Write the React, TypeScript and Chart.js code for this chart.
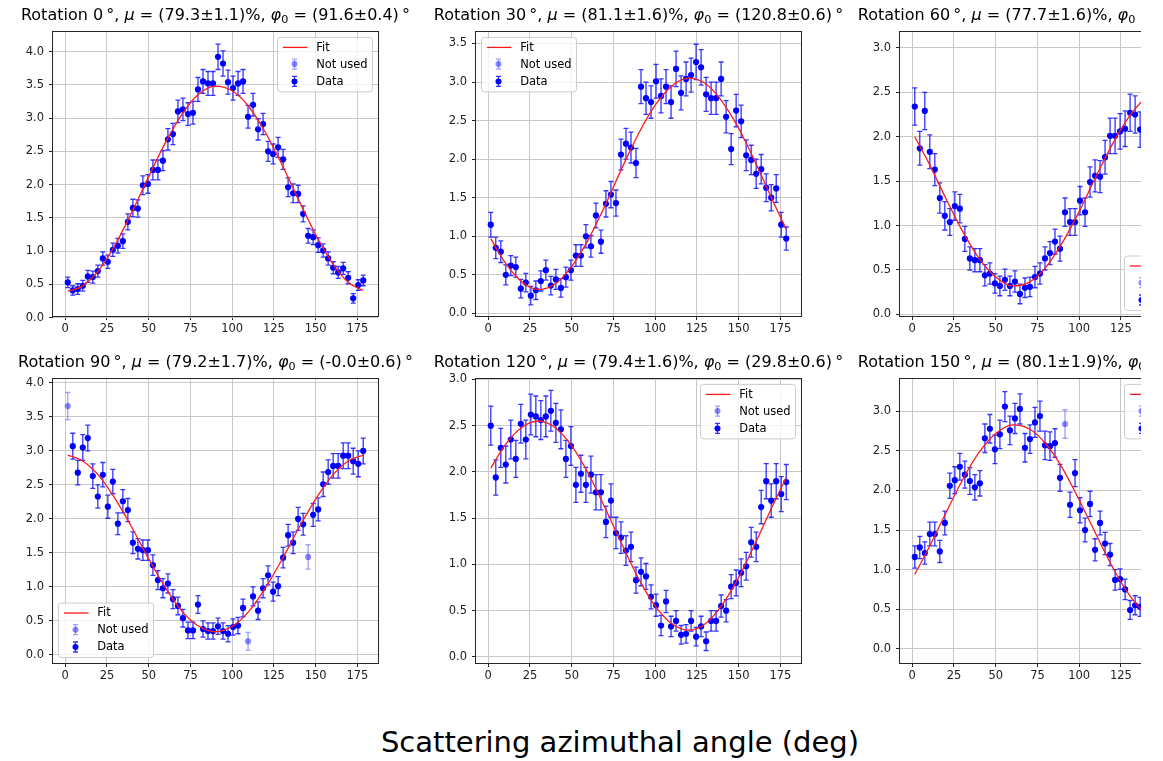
import React, { useEffect, useRef } from "react";
import { Chart, registerables } from "chart.js";

Chart.register(...registerables);

const FONT = "'DejaVu Sans', 'Liberation Sans', sans-serif";

// ---------------- data ----------------
const angles = [
  1.5, 4.5, 7.5, 10.5, 13.5, 16.5, 19.5, 22.5, 25.5, 28.5, 31.5, 34.5, 37.5, 40.5, 43.5,
  46.5, 49.5, 52.5, 55.5, 58.5, 61.5, 64.5, 67.5, 70.5, 73.5, 76.5, 79.5, 82.5, 85.5, 88.5,
  91.5, 94.5, 97.5, 100.5, 103.5, 106.5, 109.5, 112.5, 115.5, 118.5, 121.5, 124.5, 127.5, 130.5, 133.5,
  136.5, 139.5, 142.5, 145.5, 148.5, 151.5, 154.5, 157.5, 160.5, 163.5, 166.5, 169.5, 172.5, 175.5, 178.5,
];
const fitAngles = [1.5, 10, 20, 30, 40, 50, 60, 70, 80, 90, 100, 110, 120, 130, 140, 150, 160, 170, 178.5];
const xTicks = [0, 25, 50, 75, 100, 125, 150, 175];

const rotations = ["0", "30", "60", "90", "120", "150"];
const muTexts = ["79.3±1.1", "81.1±1.6", "77.7±1.6", "79.2±1.7", "79.4±1.6", "80.1±1.9"];
const phiTexts = ["91.6±0.4", "120.8±0.6", "151.4±0.6", "-0.0±0.6", "29.8±0.6", "61.5±0.6"];

const counts0 = [0.53,0.41,0.43,0.48,0.62,0.61,0.70,0.89,0.84,1.02,1.08,1.15,1.44,1.65,1.64,1.99,2.01,2.22,2.22,2.36,2.68,2.76,3.10,3.13,3.06,3.08,3.43,3.55,3.52,3.52,3.92,3.82,3.54,3.45,3.52,3.55,3.02,3.20,2.83,2.91,2.50,2.46,2.56,2.38,1.96,1.87,1.86,1.56,1.23,1.21,1.09,1.01,0.89,0.75,0.68,0.74,0.60,0.29,0.49,0.56];
const errors0 = [0.08,0.07,0.08,0.08,0.09,0.09,0.09,0.10,0.10,0.10,0.11,0.11,0.12,0.13,0.13,0.14,0.14,0.15,0.15,0.15,0.16,0.16,0.17,0.17,0.17,0.17,0.18,0.18,0.18,0.18,0.19,0.19,0.18,0.18,0.18,0.18,0.17,0.17,0.16,0.16,0.15,0.15,0.15,0.15,0.14,0.14,0.13,0.12,0.11,0.11,0.11,0.10,0.10,0.09,0.09,0.09,0.09,0.07,0.08,0.08];
const fit0 = [0.40,0.47,0.71,1.10,1.59,2.12,2.63,3.06,3.36,3.48,3.41,3.17,2.78,2.29,1.76,1.25,0.82,0.52,0.41];
const notUsed0: number[] = [];
const yTicks0 = [0, 0.5, 1, 1.5, 2, 2.5, 3, 3.5, 4];

const counts30 = [1.15,0.85,0.80,0.50,0.62,0.60,0.32,0.40,0.23,0.30,0.42,0.56,0.36,0.44,0.33,0.47,0.56,0.75,0.75,1.00,0.87,1.27,0.93,1.42,1.54,1.43,2.06,2.20,2.15,1.95,2.94,2.79,2.74,3.01,2.82,2.94,2.74,3.17,2.86,3.04,3.09,3.26,3.19,2.84,2.79,2.79,3.04,2.55,2.13,2.63,2.49,2.05,1.99,1.81,1.87,1.63,1.50,1.62,1.15,0.97];
const errors30 = [0.16,0.14,0.14,0.13,0.13,0.13,0.12,0.12,0.12,0.12,0.13,0.13,0.12,0.13,0.12,0.13,0.13,0.14,0.14,0.15,0.14,0.16,0.15,0.17,0.17,0.17,0.20,0.20,0.20,0.19,0.22,0.21,0.21,0.22,0.22,0.22,0.21,0.23,0.22,0.22,0.22,0.23,0.23,0.22,0.21,0.21,0.22,0.21,0.20,0.21,0.21,0.20,0.19,0.19,0.19,0.18,0.17,0.18,0.16,0.15];
const fit30 = [0.97,0.66,0.41,0.31,0.38,0.61,0.96,1.40,1.88,2.33,2.70,2.95,3.05,2.98,2.75,2.40,1.96,1.48,1.09];
const notUsed30: number[] = [];
const yTicks30 = [0, 0.5, 1, 1.5, 2, 2.5, 3, 3.5];

const counts60 = [2.34,1.87,2.29,1.83,1.63,1.31,1.11,1.04,1.22,1.19,0.85,0.63,0.61,0.61,0.44,0.46,0.35,0.32,0.39,0.32,0.37,0.23,0.30,0.31,0.42,0.46,0.63,0.69,0.82,0.74,1.15,1.04,1.04,1.28,1.15,1.49,1.56,1.55,1.77,2.01,2.01,2.06,2.09,2.27,2.25,2.08];
const errors60 = [0.21,0.19,0.21,0.19,0.18,0.17,0.16,0.15,0.16,0.16,0.14,0.13,0.13,0.13,0.12,0.12,0.11,0.11,0.12,0.11,0.12,0.11,0.11,0.11,0.12,0.12,0.13,0.13,0.14,0.14,0.16,0.15,0.15,0.16,0.16,0.17,0.18,0.18,0.19,0.20,0.20,0.20,0.20,0.21,0.21,0.20];
const fit60 = [2.00,1.70,1.31,0.94,0.63,0.42,0.32,0.36,0.53,0.81,1.16,1.55,1.92,2.23,2.44,2.54,2.50,2.33,2.10];
const notUsed60: number[] = [];
const yTicks60 = [0, 0.5, 1, 1.5, 2, 2.5, 3];

const counts90 = [3.66,3.07,2.68,3.05,3.19,2.63,2.33,2.65,2.18,2.55,1.93,2.26,2.13,1.65,1.56,1.54,1.54,1.32,1.10,0.98,1.05,0.82,0.72,0.54,0.36,0.36,0.74,0.38,0.35,0.35,0.42,0.35,0.31,0.41,0.43,0.69,0.20,0.86,0.65,0.98,1.17,0.93,1.01,1.43,1.76,1.65,2.00,1.92,1.44,2.06,2.14,2.51,2.69,2.78,2.78,2.93,2.93,2.85,2.81,3.00];
const errors90 = [0.20,0.19,0.18,0.19,0.19,0.18,0.17,0.18,0.17,0.18,0.16,0.17,0.17,0.16,0.15,0.15,0.15,0.15,0.14,0.14,0.14,0.14,0.13,0.13,0.12,0.12,0.13,0.12,0.12,0.12,0.12,0.12,0.12,0.12,0.12,0.13,0.13,0.14,0.13,0.14,0.14,0.14,0.14,0.15,0.16,0.16,0.17,0.16,0.18,0.17,0.17,0.18,0.18,0.18,0.18,0.19,0.19,0.19,0.19,0.19];
const fit90 = [2.94,2.86,2.64,2.29,1.87,1.41,0.99,0.64,0.42,0.34,0.42,0.64,0.99,1.41,1.87,2.29,2.64,2.86,2.94];
const notUsed90 = [1.5, 109.5, 145.5];
const yTicks90 = [0, 0.5, 1, 1.5, 2, 2.5, 3, 3.5, 4];

const counts120 = [2.50,1.94,2.26,2.08,2.35,2.14,2.52,2.35,2.62,2.60,2.56,2.60,2.66,2.53,2.46,2.14,2.28,1.86,1.98,1.86,1.97,1.78,1.78,1.46,1.69,1.34,1.29,1.15,1.19,0.83,0.92,0.87,0.65,0.56,0.34,0.60,0.33,0.39,0.24,0.25,0.39,0.22,0.33,0.17,0.39,0.39,0.55,0.50,0.76,0.80,0.91,0.98,1.24,1.19,1.62,1.90,1.69,1.90,1.76,1.89];
const errors120 = [0.21,0.19,0.21,0.20,0.21,0.20,0.21,0.21,0.22,0.22,0.21,0.22,0.22,0.21,0.21,0.20,0.21,0.19,0.20,0.19,0.20,0.19,0.19,0.17,0.18,0.17,0.17,0.16,0.16,0.14,0.15,0.14,0.13,0.12,0.11,0.12,0.11,0.11,0.10,0.10,0.11,0.10,0.11,0.10,0.11,0.11,0.12,0.12,0.13,0.14,0.15,0.15,0.16,0.16,0.18,0.19,0.18,0.19,0.19,0.19];
const fit120 = [2.04,2.29,2.48,2.55,2.48,2.28,1.98,1.61,1.22,0.85,0.55,0.36,0.29,0.36,0.56,0.86,1.23,1.62,1.94];
const notUsed120: number[] = [];
const yTicks120 = [0, 0.5, 1, 1.5, 2, 2.5, 3];

const counts150 = [1.16,1.28,1.21,1.45,1.45,1.23,1.59,2.06,2.13,2.30,2.20,2.12,2.04,2.09,2.66,2.78,2.52,2.71,3.06,2.76,2.91,3.03,2.54,2.65,2.86,2.94,2.57,2.56,2.60,2.16,2.84,1.82,2.22,1.75,1.50,1.83,1.25,1.59,1.33,1.19,0.87,0.88,0.75,0.49,0.55,0.53];
const errors150 = [0.14,0.14,0.14,0.15,0.15,0.14,0.15,0.16,0.17,0.17,0.17,0.17,0.16,0.16,0.18,0.18,0.18,0.18,0.19,0.18,0.19,0.19,0.18,0.18,0.19,0.19,0.18,0.18,0.18,0.17,0.18,0.16,0.17,0.16,0.15,0.16,0.14,0.15,0.14,0.14,0.13,0.13,0.13,0.12,0.12,0.12];
const fit150 = [0.94,1.28,1.71,2.13,2.48,2.72,2.83,2.78,2.59,2.28,1.88,1.45,1.03,0.68,0.44,0.33,0.38,0.57,0.83];
const notUsed150 = [91.5];
const yTicks150 = [0, 0.5, 1, 1.5, 2, 2.5, 3];

const legendLabels = ["Fit", "Not used", "Data"];
const xLabel = "Scattering azimuthal angle (deg)";

// ---------------- layout / style ----------------
type Loc = "upper right" | "upper left" | "lower right" | "lower left";
type PanelSpec = {
  idx: number;
  counts: number[];
  errors: number[];
  fit: number[];
  notUsed: number[];
  yTicks: number[];
  yMin: number;
  yMax: number;
  legend: Loc;
  left: number;
  top: number;
};

const AX_W = 325;
const AX_H = 288;
const Y_AXIS_W = 48;
const PAD_TOP = 8;
const PAD_RIGHT = 10;
const X_AXIS_H = 28;

const panels: PanelSpec[] = [
  { idx: 0, counts: counts0, errors: errors0, fit: fit0, notUsed: notUsed0, yTicks: yTicks0, yMin: 0.025, yMax: 4.295, legend: "upper right", left: 53, top: 28 },
  { idx: 1, counts: counts30, errors: errors30, fit: fit30, notUsed: notUsed30, yTicks: yTicks30, yMin: -0.034, yMax: 3.65, legend: "upper left", left: 476, top: 28 },
  { idx: 2, counts: counts60, errors: errors60, fit: fit60, notUsed: notUsed60, yTicks: yTicks60, yMin: -0.018, yMax: 3.18, legend: "lower right", left: 900, top: 28 },
  { idx: 3, counts: counts90, errors: errors90, fit: fit90, notUsed: notUsed90, yTicks: yTicks90, yMin: -0.12, yMax: 4.06, legend: "lower left", left: 53, top: 375 },
  { idx: 4, counts: counts120, errors: errors120, fit: fit120, notUsed: notUsed120, yTicks: yTicks120, yMin: -0.065, yMax: 3.005, legend: "upper right", left: 476, top: 375 },
  { idx: 5, counts: counts150, errors: errors150, fit: fit150, notUsed: notUsed150, yTicks: yTicks150, yMin: -0.18, yMax: 3.41, legend: "upper right", left: 900, top: 375 },
];

const BLUE = "#0000ff";
const BLUE_LIGHT = "rgba(0,0,255,0.45)";
const BAR = "rgba(0,0,255,0.8)";
const BAR_LIGHT = "rgba(0,0,255,0.38)";
const RED = "#ff1a1a";
const TICK_FONT = 11.5;

function drawErrorbar(ctx: CanvasRenderingContext2D, x: number, y0: number, y1: number, color: string) {
  ctx.strokeStyle = color;
  ctx.lineWidth = 1.3;
  ctx.beginPath();
  ctx.moveTo(x, y0);
  ctx.lineTo(x, y1);
  ctx.moveTo(x - 2.5, y0);
  ctx.lineTo(x + 2.5, y0);
  ctx.moveTo(x - 2.5, y1);
  ctx.lineTo(x + 2.5, y1);
  ctx.stroke();
}

function Panel({ spec }: { spec: PanelSpec }) {
  const ref = useRef<HTMLCanvasElement | null>(null);
  const cw = Y_AXIS_W + AX_W + PAD_RIGHT;
  const ch = PAD_TOP + AX_H + X_AXIS_H;

  useEffect(() => {
    if (!ref.current) return;
    const used: { x: number; y: number }[] = [];
    const unused: { x: number; y: number }[] = [];
    const bars: { x: number; y: number; e: number; used: boolean }[] = [];
    spec.counts.forEach((v, i) => {
      const a = angles[i];
      const isUsed = spec.notUsed.indexOf(a) < 0;
      (isUsed ? used : unused).push({ x: a, y: v });
      bars.push({ x: a, y: v, e: spec.errors[i], used: isUsed });
    });
    const fitPts = fitAngles.map((a, i) => ({ x: a, y: spec.fit[i] }));

    const errorPlugin = {
      id: "errorbarsLocal",
      beforeDatasetsDraw(chart: any) {
        const { ctx, chartArea } = chart;
        const xs = chart.scales.x;
        const ys = chart.scales.y;
        ctx.save();
        ctx.beginPath();
        ctx.rect(chartArea.left, chartArea.top, chartArea.right - chartArea.left, chartArea.bottom - chartArea.top);
        ctx.clip();
        for (const b of bars) {
          const px = xs.getPixelForValue(b.x);
          drawErrorbar(ctx, px, ys.getPixelForValue(b.y - b.e), ys.getPixelForValue(b.y + b.e), b.used ? BAR : BAR_LIGHT);
        }
        ctx.restore();
      },
    };

    const framePlugin = {
      id: "frameLegendLocal",
      afterDraw(chart: any) {
        const { ctx, chartArea } = chart;
        const l = chartArea.left, r = chartArea.right, t = chartArea.top, b = chartArea.bottom;
        ctx.save();
        ctx.strokeStyle = "#262626";
        ctx.lineWidth = 1;
        ctx.strokeRect(Math.round(l) - 0.5, Math.round(t) - 0.5, Math.round(r - l) + 1, Math.round(b - t) + 1);

        // legend
        const w = 95, h = 54.5, inset = 5.5;
        const bx = spec.legend.indexOf("right") >= 0 ? r - inset - w : l + inset;
        const by = spec.legend.indexOf("upper") >= 0 ? t + inset : b - inset - h;
        ctx.beginPath();
        if ((ctx as any).roundRect) (ctx as any).roundRect(bx, by, w, h, 3);
        else ctx.rect(bx, by, w, h);
        ctx.fillStyle = "rgba(255,255,255,0.8)";
        ctx.fill();
        ctx.strokeStyle = "#cccccc";
        ctx.lineWidth = 1;
        ctx.stroke();

        const rows = [by + 10, by + 26.7, by + 44];
        // Fit
        ctx.strokeStyle = RED;
        ctx.lineWidth = 1.3;
        ctx.beginPath();
        ctx.moveTo(bx + 5.4, rows[0]);
        ctx.lineTo(bx + 30, rows[0]);
        ctx.stroke();
        // Not used
        const mx = bx + 17;
        drawErrorbar(ctx, mx, rows[1] - 5, rows[1] + 5, BAR_LIGHT);
        ctx.fillStyle = BLUE_LIGHT;
        ctx.beginPath();
        ctx.arc(mx, rows[1], 3, 0, Math.PI * 2);
        ctx.fill();
        // Data
        drawErrorbar(ctx, mx, rows[2] - 5, rows[2] + 5, BAR);
        ctx.fillStyle = BLUE;
        ctx.beginPath();
        ctx.arc(mx, rows[2], 3, 0, Math.PI * 2);
        ctx.fill();

        ctx.fillStyle = "#000";
        ctx.font = `11.5px ${FONT}`;
        ctx.textBaseline = "middle";
        ctx.textAlign = "left";
        legendLabels.forEach((lab, i) => ctx.fillText(lab, bx + 38.7, rows[i] + 0.5));
        ctx.restore();
      },
    };

    const chart = new Chart(ref.current, {
      type: "scatter",
      data: {
        datasets: [
          {
            label: legendLabels[0],
            data: fitPts,
            showLine: true,
            borderColor: RED,
            borderWidth: 1.3,
            pointRadius: 0,
            cubicInterpolationMode: "monotone",
            order: 0,
          } as any,
          {
            label: legendLabels[2],
            data: used,
            backgroundColor: BLUE,
            borderWidth: 0,
            pointRadius: 3.1,
            order: 1,
          },
          {
            label: legendLabels[1],
            data: unused,
            backgroundColor: BLUE_LIGHT,
            borderWidth: 0,
            pointRadius: 3.1,
            order: 2,
          },
        ],
      },
      options: {
        responsive: false,
        animation: false,
        devicePixelRatio: 1,
        events: [],
        layout: { padding: { top: PAD_TOP, right: PAD_RIGHT, left: 0, bottom: 0 }, autoPadding: false } as any,
        plugins: { legend: { display: false }, tooltip: { enabled: false }, title: { display: false } },
        scales: {
          x: {
            type: "linear",
            min: -7.35,
            max: 187.35,
            afterBuildTicks: (s: any) => {
              s.ticks = xTicks.map((v) => ({ value: v }));
            },
            afterFit: (s: any) => {
              s.height = X_AXIS_H;
            },
            grid: { color: "#c8c8c8", lineWidth: 1, tickColor: "#262626", tickLength: 4, drawTicks: true },
            border: { display: false },
            ticks: {
              autoSkip: false,
              maxRotation: 0,
              padding: 2,
              color: "#222",
              font: { family: FONT, size: TICK_FONT },
              callback: (v: any) => String(v),
            },
          },
          y: {
            type: "linear",
            min: spec.yMin,
            max: spec.yMax,
            afterBuildTicks: (s: any) => {
              s.ticks = spec.yTicks.map((v) => ({ value: v }));
            },
            afterFit: (s: any) => {
              s.width = Y_AXIS_W;
            },
            grid: { color: "#c8c8c8", lineWidth: 1, tickColor: "#262626", tickLength: 4, drawTicks: true },
            border: { display: false },
            ticks: {
              autoSkip: false,
              padding: 5,
              color: "#222",
              font: { family: FONT, size: TICK_FONT },
              callback: (v: any) => Number(v).toFixed(1),
            },
          },
        },
      },
      plugins: [errorPlugin, framePlugin],
    });
    return () => chart.destroy();
  }, [spec]);

  return (
    <canvas
      ref={ref}
      width={cw}
      height={ch}
      style={{
        position: "absolute",
        left: spec.left - Y_AXIS_W,
        top: spec.top - PAD_TOP,
        width: cw,
        height: ch,
        display: "block",
      }}
    />
  );
}

function Title({ spec }: { spec: PanelSpec }) {
  const i = spec.idx;
  const baseline = spec.top < 200 ? 20.5 : 367;
  return (
    <div
      style={{
        position: "absolute",
        left: spec.left + AX_W / 2,
        top: baseline - 13.5,
        transform: "translateX(-50%)",
        whiteSpace: "nowrap",
        fontFamily: FONT,
        fontSize: 16,
        lineHeight: "16px",
        color: "#000",
      }}
    >
      Rotation {rotations[i]}{"\u2009°"}, <i>μ</i> = ({muTexts[i]})%, <i>φ</i>
      <span style={{ fontSize: "0.7em", position: "relative", top: "0.3em" }}>0</span> = ({phiTexts[i]}){"\u2009°"}
    </div>
  );
}

export default function App() {
  return (
    <div
      style={{
        position: "absolute",
        left: 0,
        top: 0,
        width: 1141,
        height: 761,
        overflow: "hidden",
        background: "#ffffff",
      }}
    >
      {panels.map((p) => (
        <Panel key={p.idx} spec={p} />
      ))}
      {panels.map((p) => (
        <Title key={"t" + p.idx} spec={p} />
      ))}
      <div
        style={{
          position: "absolute",
          left: 620,
          top: 727.5,
          transform: "translateX(-50%)",
          whiteSpace: "nowrap",
          fontFamily: FONT,
          fontSize: 29,
          lineHeight: "29px",
          color: "#000",
        }}
      >
        {xLabel}
      </div>
    </div>
  );
}
